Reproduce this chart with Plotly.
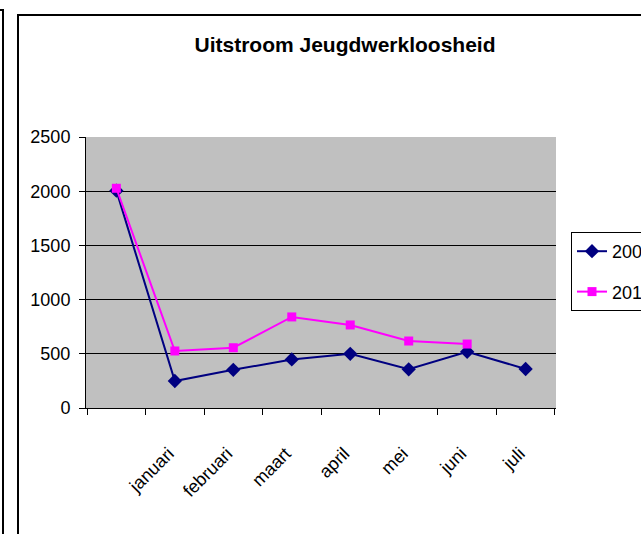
import plotly.graph_objects as go

categories = ["", "januari", "februari", "maart", "april", "mei", "juni", "juli"]
series_2009 = [2005, 249, 352, 448, 500, 357, 519, 360]
series_2010 = [2027, 526, 556, 840, 766, 618, 590, None]
y_ticks = [0, 500, 1000, 1500, 2000, 2500]

FONT = "Liberation Sans, Arial, sans-serif"

W, H = 641, 534
L, R, T, B = 86, 556, 137, 408


def px_x(p):
    return (p - L) / (R - L)


def px_y(p):
    return (B - p) / (B - T)


fig = go.Figure()
fig.add_trace(go.Scatter(
    x=categories, y=series_2009, name="2009", mode="lines+markers",
    line=dict(color="#000080", width=2),
    marker=dict(symbol="diamond", size=11, color="#000080"),
    legendgroup="a",
))
fig.add_trace(go.Scatter(
    x=categories, y=series_2010, name="2010", mode="lines+markers",
    line=dict(color="#FF00FF", width=2),
    marker=dict(symbol="square", size=9, color="#FF00FF"),
    legendgroup="b",
))

shapes = [
    # main chart frame
    dict(type="rect", xref="paper", yref="paper",
         x0=px_x(18), x1=px_x(700), y0=px_y(15), y1=px_y(600),
         line=dict(color="black", width=2), fillcolor="rgba(0,0,0,0)", layer="below"),
    # neighbouring frame on the left
    dict(type="rect", xref="paper", yref="paper",
         x0=px_x(-60), x1=px_x(3), y0=px_y(10), y1=px_y(600),
         line=dict(color="black", width=2), fillcolor="rgba(0,0,0,0)", layer="below"),
]

fig.update_layout(
    width=W, height=H,
    margin=dict(l=L, r=W - R, t=T, b=H - B, pad=0, autoexpand=False),
    paper_bgcolor="white",
    plot_bgcolor="#C0C0C0",
    font=dict(family=FONT, size=16, color="black"),
    title=dict(text="<b>Uitstroom Jeugdwerkloosheid</b>", x=px_x(345), xref="paper",
               xanchor="center", y=1 - 45 / H, yref="container", yanchor="middle",
               font=dict(family=FONT, size=21, color="black")),
    shapes=shapes,
    showlegend=True,
    legend=dict(x=px_x(571), y=px_y(232), xanchor="left", yanchor="top",
                bordercolor="black", borderwidth=1, bgcolor="white",
                font=dict(family=FONT, size=18), tracegroupgap=14,
                traceorder="grouped"),
    xaxis=dict(type="category", categoryorder="array", categoryarray=categories,
               tickson="boundaries", ticks="outside", ticklen=6, tickcolor="black",
               showline=True, linecolor="black", linewidth=1, mirror=False,
               showgrid=False, tickangle=-45, ticklabelstandoff=27,
               ticklabelshift=-6,
               tickfont=dict(family=FONT, size=18)),
    yaxis=dict(range=[0, 2500], tickvals=y_ticks, ticks="outside", ticklen=6,
               tickcolor="black", showline=True, linecolor="black", linewidth=1,
               showgrid=True, gridcolor="black", gridwidth=1, zeroline=False,
               tickfont=dict(family=FONT, size=18), ticklabelstandoff=5),
)

fig.write_html(
    "out.html",
    config={"displayModeBar": False},
    post_script="document.body.style.margin='0';document.body.style.overflow='hidden';",
)
